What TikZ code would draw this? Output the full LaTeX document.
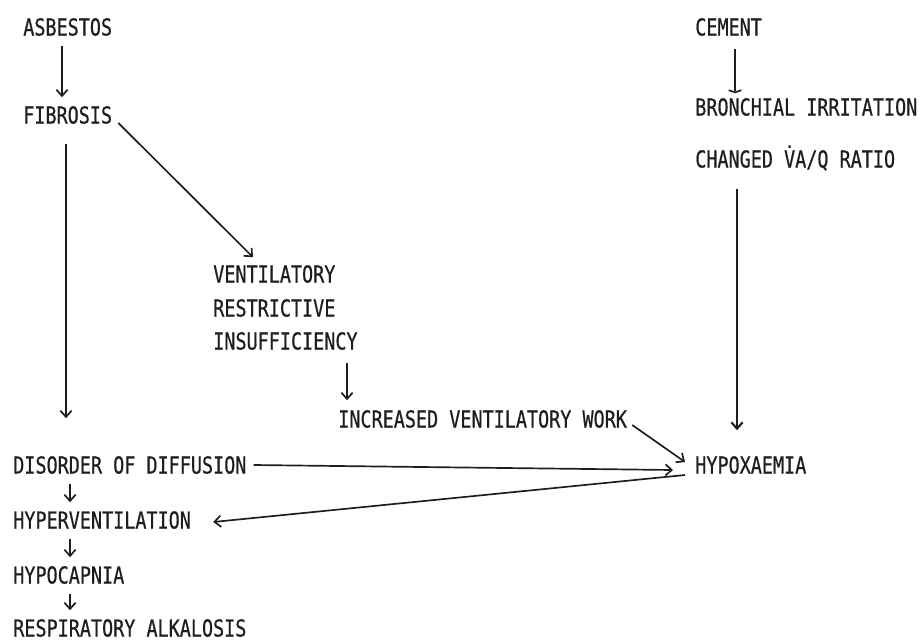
\documentclass[tikz,border=0pt]{standalone}
\usepackage{fontspec}
\setmainfont{DejaVu Sans Mono}[FakeStretch=0.79,FakeBold=0.6]
\usetikzlibrary{arrows.meta,calc}
\definecolor{ink}{HTML}{1E1E1E}

\begin{document}
\begin{tikzpicture}[x=0.025cm,y=-0.025cm,
  lbl/.style={anchor=west,inner xsep=0pt,inner ysep=0.2cm,text height=12.1pt,text depth=0pt,text=ink,font=\fontsize{16.6pt}{20pt}\selectfont},
  arr/.style={draw=ink,line width=1.2pt,-{Straight Barb[length=4.5pt,width=8pt]}},
  flatarr/.style={draw=ink,line width=1.2pt,-{Straight Barb[length=1.5pt,width=9pt]}}]
\useasboundingbox (0,0) rectangle (921,639);
% asbestos side
\node[lbl] (asb) at (23,27) {ASBESTOS};
\node[lbl] (fib) at (23,115) {FIBROSIS};
\node[lbl] (vent) at (213,274) {VENTILATORY};
\node[lbl] (restr) at (213,308) {RESTRICTIVE};
\node[lbl] (insuf) at (213,341) {INSUFFICIENCY};
\node[lbl] (incr) at (338,419) {INCREASED VENTILATORY WORK};
% cement side
\node[lbl] (cem) at (695,27) {CEMENT};
\node[lbl] (bron) at (695,107) {BRONCHIAL IRRITATION};
\node[lbl] (chg) at (695,159) {CHANGED \.{V}A/Q RATIO};
\node[lbl] (hypox) at (695,465) {HYPOXAEMIA};
% consequences
\node[lbl] (dis) at (13,465) {DISORDER OF DIFFUSION};
\node[lbl] (hyper) at (13,520) {HYPERVENTILATION};
\node[lbl] (hypoc) at (13,575) {HYPOCAPNIA};
\node[lbl] (resp) at (13,628) {RESPIRATORY ALKALOSIS};
% arrows
\draw[arr] ($(asb.south west)+(39,2)$) -- ($(fib.north west)+(39,-1)$);
\draw[arr] ($(fib.east)+(6,8)$) -- ($(vent.north west)+(40,0)$);
\coordinate (fibfoot) at ($(fib.south west)+(43,12)$);
\draw[arr] (fibfoot) -- ($(fibfoot |- dis.north)+(0,-30)$);
\coordinate (insfoot) at ($(insuf.south west)+(134,5)$);
\draw[arr] (insfoot) -- ($(insfoot |- incr.north)+(0,-2)$);
\coordinate (cemfoot) at ($(cem.south west)+(40,5)$);
\draw[flatarr] (cemfoot) -- ($(cemfoot |- bron.north)+(0,3)$);
\coordinate (chgfoot) at ($(chg.south west)+(42,13)$);
\draw[arr,line width=1.5pt] (chgfoot) -- ($(chgfoot |- hypox.north)+(0,-18)$);
\draw[arr] ($(incr.east)+(5,6)$) -- ($(hypox.west)+(-10,-3)$);
\draw[arr] ($(dis.east)+(7,0)$) -- ($(hypox.west)+(-22,5)$);
\draw[arr] ($(hypox.west)+(-10,10)$) -- ($(hyper.east)+(22,2)$);
\foreach \a/\b in {dis/hyper,hyper/hypoc,hypoc/resp} {
  \coordinate (f) at ($(\a.south west)+(57,2)$);
  \draw[arr] (f) -- ($(f |- \b.north)+(0,-1)$);
}
\end{tikzpicture}
\end{document}
